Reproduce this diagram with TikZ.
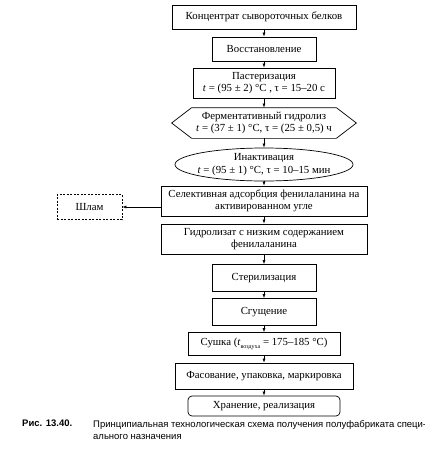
\documentclass[tikz,border=0pt]{standalone}
\usepackage{fontspec}
\setmainfont{Liberation Serif}
\newfontfamily\capfont{Liberation Sans}
\usetikzlibrary{arrows.meta,shapes.geometric}
\begin{document}
\begin{tikzpicture}[x=1pt,y=-1pt,
  box/.style={draw, line width=0.7pt, inner sep=1pt, align=center, font=\fontsize{10.8}{12.3}\selectfont},
  arr/.style={-{Latex[length=4pt,width=3pt]}, line width=0.6pt},
  capt/.style={anchor=north west, inner sep=0pt, align=left, font=\capfont\fontsize{9.5}{12}\selectfont}]
\useasboundingbox[fill=white] (0,0) rectangle (425,450);
\node[box, minimum width=184pt, minimum height=24pt] (b1) at (264,17) {Концентрат сывороточных белков};
\node[box, minimum width=104pt, minimum height=24pt] (b2) at (264,49) {Восстановление};
\node[box, minimum width=142pt, minimum height=30pt] (b3) at (264,83) {Пастеризация\\\textit{t} = (95 ± 2) °C , τ = 15–20 с};
\node[box, draw=none, minimum width=184pt, minimum height=30pt] (hex) at (264,123) {Ферментативный гидролиз\\\textit{t} = (37 ± 1) °C, τ = (25 ± 0,5) ч};
\draw[line width=0.7pt] (hex.west) -- ([xshift=20pt]hex.north west) -- ([xshift=-20pt]hex.north east) -- (hex.east) -- ([xshift=-20pt]hex.south east) -- ([xshift=20pt]hex.south west) -- cycle;
\node[box, draw=none, minimum width=178pt, minimum height=33pt] (ell) at (264,164.5) {Инактивация\\\textit{t} = (95 ± 1) °C, τ = 10–15 мин};
\draw[line width=0.7pt] (ell.center) ellipse [x radius=89pt, y radius=16.5pt];
\node[box, minimum width=206pt, minimum height=30pt] (b6) at (264,201) {Селективная адсорбция фенилаланина на\\активированном угле};
\node[box, minimum width=206pt, minimum height=30pt] (b7) at (264,239) {Гидролизат с низким содержанием\\фенилаланина};
\node[box, minimum width=104pt, minimum height=27pt] (b8) at (264,278) {Стерилизация};
\node[box, minimum width=104pt, minimum height=27pt] (b9) at (264,312) {Сгущение};
\node[box, minimum width=152pt, minimum height=23pt] (b10) at (264,344) {Сушка (\textit{t}\raisebox{-0.5ex}{\fontsize{6}{6}\selectfont воздуха} = 175–185 °C)};
\node[box, minimum width=178pt, minimum height=26pt] (b11) at (264,376) {Фасование, упаковка, маркировка};
\node[box, rounded corners=4pt, minimum width=152pt, minimum height=20pt] (b12) at (264,406) {Хранение, реализация};
\node[box, dash pattern=on 2pt off 1.5pt, minimum width=65pt, minimum height=25pt] (shlam) at (89.5,207) {Шлам};
\draw[arr] (b1) -- (b2);
\draw[arr] (b2) -- (b3);
\draw[arr] (b3) -- (hex);
\draw[arr] (hex) -- (ell);
\draw[arr] (ell) -- (b6);
\draw[arr] (b6) -- (b7);
\draw[arr] (b7) -- (b8);
\draw[arr] (b8) -- (b9);
\draw[arr] (b9) -- (b10);
\draw[arr] (b10) -- (b11);
\draw[arr] (b11) -- (b12);
\draw[arr] (b6.west |- shlam) -- (shlam.east);
\node[capt] (capnum) at (22,420) {\textbf{Рис. 13.40.}};
\node[capt] (captext) at (93,420) {Принципиальная технологическая схема получения полуфабриката специ-\\ального назначения};
\end{tikzpicture}
\end{document}
